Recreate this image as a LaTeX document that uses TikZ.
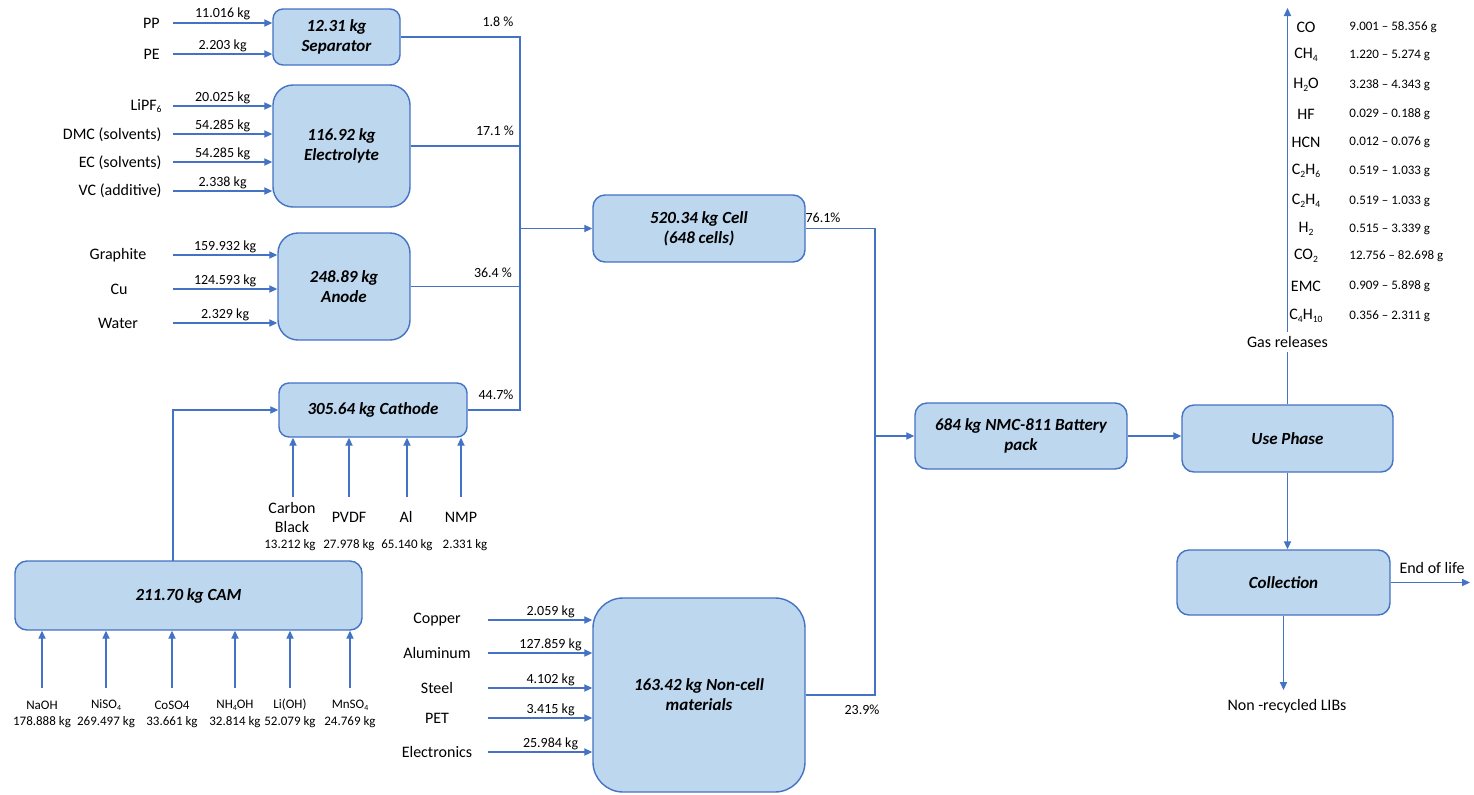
\documentclass[tikz,border=0pt]{standalone}
\usepackage{fontspec}
\usepackage{graphicx}
\setmainfont{Carlito}
\usetikzlibrary{arrows.meta}
\definecolor{bfill}{HTML}{BDD7EE}
\definecolor{bline}{HTML}{4472C4}
\newcommand\sbs[1]{\raisebox{-0.35ex}{\scalebox{0.6}{#1}}}
\begin{document}
\begin{tikzpicture}[x=0.5pt,y=-0.5pt,
 box/.style={draw=bline, fill=bfill, line width=0.7pt, align=center, font=\fontsize{8.5}{10}\selectfont\bfseries\itshape, inner sep=1pt},
 arr/.style={draw=bline, line width=0.6pt, -{Triangle[length=4pt,width=3.6pt]}},
 ln/.style={draw=bline, line width=0.6pt},
 lab/.style={font=\fontsize{8}{9.5}\selectfont, inner sep=0pt, align=center},
 val/.style={font=\fontsize{7}{8}\selectfont, inner sep=1pt},
 sml/.style={font=\fontsize{6.5}{8}\selectfont, inner sep=0pt},
 gv/.style={font=\fontsize{6.5}{8}\selectfont, inner sep=0pt, anchor=west},
]
\useasboundingbox (0,0) rectangle (1474,794);

% boxes
\node[box, rounded corners=5pt, minimum width=63.5pt, minimum height=28pt] (sep) at (336.5,37) {12.31 kg\\Separator};
\node[box, rounded corners=10pt, minimum width=68.5pt, minimum height=61pt] (ele) at (341.5,146) {116.92 kg\\Electrolyte};
\node[box, rounded corners=10pt, minimum width=66pt, minimum height=53.5pt] (ano) at (344,286.5) {248.89 kg\\Anode};
\node[box, rounded corners=5pt, minimum width=94pt, minimum height=27pt] (cat) at (373,410) {305.64 kg Cathode};
\node[box, rounded corners=6pt, minimum width=106pt, minimum height=33.5pt] (cell) at (699,228.5) {520.34 kg Cell\\(648 cells)};
\node[box, rounded corners=6pt, minimum width=173.5pt, minimum height=34.5pt] (cam) at (188.5,595.5) {211.70 kg CAM};
\node[box, rounded corners=15pt, minimum width=106pt, minimum height=97pt] (nonc) at (699,695) {163.42 kg Non-cell\\materials};
\node[box, rounded corners=6pt, minimum width=106pt, minimum height=33pt] (bat) at (1021,436) {684 kg NMC-811 Battery\\pack};
\node[box, rounded corners=6pt, minimum width=105.5pt, minimum height=33.5pt] (use) at (1287.5,438.5) {Use Phase};
\node[box, rounded corners=6pt, minimum width=106.5pt, minimum height=32.5pt] (col) at (1283.5,582.5) {Collection};

% separator inputs
\node[lab, anchor=east] (lpp) at (160,23) {PP};
\node[lab, anchor=east] (lpe) at (160,54) {PE};
\coordinate (ipp) at (173,23);
\coordinate (ipe) at (173,54);
\draw[arr] (ipp) -- (ipp -| sep.west) node[val, midway, above] {11.016 kg};
\draw[arr] (ipe) -- (ipe -| sep.west) node[val, midway, above] {2.203 kg};

% electrolyte inputs
\node[lab, anchor=east] (l1) at (162,106) {LiPF\sbs{6}};
\node[lab, anchor=east] (l2) at (162,135) {DMC (solvents)};
\node[lab, anchor=east] (l3) at (162,163) {EC (solvents)};
\node[lab, anchor=east] (l4) at (162,191) {VC (additive)};
\coordinate (i1) at (173,106);
\coordinate (i2) at (173,134);
\coordinate (i3) at (173,162);
\coordinate (i4) at (173,191);
\draw[arr] (i1) -- (i1 -| ele.west) node[val, midway, above] {20.025 kg};
\draw[arr] (i2) -- (i2 -| ele.west) node[val, midway, above] {54.285 kg};
\draw[arr] (i3) -- (i3 -| ele.west) node[val, midway, above] {54.285 kg};
\draw[arr] (i4) -- (i4 -| ele.west) node[val, midway, above] {2.338 kg};

% anode inputs
\node[lab] (la1) at (118,255) {Graphite};
\node[lab] (la2) at (119,289) {Cu};
\node[lab] (la3) at (118,323) {Water};
\coordinate (a1) at (173,255);
\coordinate (a2) at (173,289);
\coordinate (a3) at (173,323);
\draw[arr] (a1) -- (a1 -| ano.west) node[val, midway, above] {159.932 kg};
\draw[arr] (a2) -- (a2 -| ano.west) node[val, midway, above] {124.593 kg};
\draw[arr] (a3) -- (a3 -| ano.west) node[val, midway, above] {2.329 kg};

% bus to cell
\coordinate (bt) at (520,37);
\coordinate (bb) at (520,410);
\draw[ln] (sep.east) -- (bt) -- (bb) -- (cat.east);
\draw[ln] (ele.east) -- (ele.east -| bt);
\draw[ln] (ano.east) -- (ano.east -| bt);
\draw[arr] (bt |- cell.west) -- (cell.west);
\node[val] (p1) at (498,22) {1.8 \%};
\node[val] (p2) at (495,131) {17.1 \%};
\node[val] (p3) at (493,273) {36.4 \%};
\node[val] (p4) at (496,395) {44.7\%};

% cathode inputs
\coordinate (c1) at (293,497);
\coordinate (c2) at (349,497);
\coordinate (c3) at (407,497);
\coordinate (c4) at (461,497);
\draw[arr] (c1) -- (c1 |- cat.south);
\draw[arr] (c2) -- (c2 |- cat.south);
\draw[arr] (c3) -- (c3 |- cat.south);
\draw[arr] (c4) -- (c4 |- cat.south);
\node[lab] (lc1) at (292,517) {Carbon\\Black};
\node[lab] (lc2) at (349,517) {PVDF};
\node[lab] (lc3) at (406,517) {Al};
\node[lab] (lc4) at (461,517) {NMP};
\node[sml] (vc1) at (290,545) {13.212 kg};
\node[sml] (vc2) at (349,545) {27.978 kg};
\node[sml] (vc3) at (407,545) {65.140 kg};
\node[sml] (vc4) at (465,545) {2.331 kg};

% CAM
\coordinate (camout) at (173,561);
\draw[arr] (camout) |- (cat.west);
\foreach \n/\x/\nm/\v in {1/42/NaOH/178.888 kg, 2/106/NiSO\sbs{4}/269.497 kg, 3/172/CoSO4/33.661 kg, 4/235/NH\sbs{4}OH/32.814 kg, 5/290/Li(OH)/52.079 kg, 6/350/MnSO\sbs{4}/24.769 kg}{
  \coordinate (m\n) at (\x,688);
  \draw[arr] (m\n) -- (m\n |- cam.south);
  \node[sml] (lm\n) at (\x,705) {\nm};
  \node[sml] (vm\n) at (\x,722) {\v};
}

% non-cell inputs
\foreach \n/\y/\nm/\v in {1/620/Copper/2.059 kg, 2/653/Aluminum/127.859 kg, 3/688/Steel/4.102 kg, 4/718/PET/3.415 kg, 5/752/Electronics/25.984 kg}{
  \node[lab] (ln\n) at (437,\y) {\nm};
  \coordinate (n\n) at (488,\y);
  \draw[arr] (n\n) -- (n\n -| nonc.west) node[val, pos=0.6, above] {\v};
}

% cell & non-cell to battery
\coordinate (jx) at (875,436);
\draw[ln] (cell.east) -- (cell.east -| jx) -- (jx |- nonc.east) -- (nonc.east);
\draw[arr] (jx |- bat.west) -- (bat.west);
\node[val] (p5) at (823,218) {76.1\%};
\node[val] (p6) at (862,710) {23.9\%};

% battery to use phase
\draw[arr] (bat.east) -- (bat.east -| use.west);
\draw[arr] (use.south) -- (use.south |- col.north);

% gas releases
\node[lab, fill=white, inner sep=2pt] (gas) at (1287.5,342) {Gas releases};
\coordinate (gtop) at (1287.5,8);
\draw[ln] (use.north) -- (gas.south);
\draw[arr] (gas.north) -- (gtop);
\foreach \n/\y/\nm/\v in {1/27/CO/9.001 -- 58.356 g, 2/55/CH\sbs{4}/1.220 -- 5.274 g, 3/85/H\sbs{2}O/3.238 -- 4.343 g, 4/114/HF/0.029 -- 0.188 g, 5/142/HCN/0.012 -- 0.076 g, 6/171/C\sbs{2}H\sbs{6}/0.519 -- 1.033 g, 7/201/C\sbs{2}H\sbs{4}/0.519 -- 1.033 g, 8/229/H\sbs{2}/0.515 -- 3.339 g, 9/256/CO\sbs{2}/12.756 -- 82.698 g, 10/286/EMC/0.909 -- 5.898 g, 11/316/C\sbs{4}H\sbs{10}/0.356 -- 2.311 g}{
  \node[lab] (gn\n) at (1306,\y) {\nm};
  \node[gv] (gv\n) at (1349,\y) {\v};
}

% collection outputs
\coordinate (eol) at (1470,582.5);
\draw[arr] (col.east) -- (eol);
\node[lab] (leol) at (1432,568) {End of life};
\coordinate (nrl) at (1283.5,690);
\draw[arr] (col.south) -- (nrl);
\node[lab] (lnrl) at (1287,706) {Non -recycled LIBs};
\end{tikzpicture}
\end{document}
